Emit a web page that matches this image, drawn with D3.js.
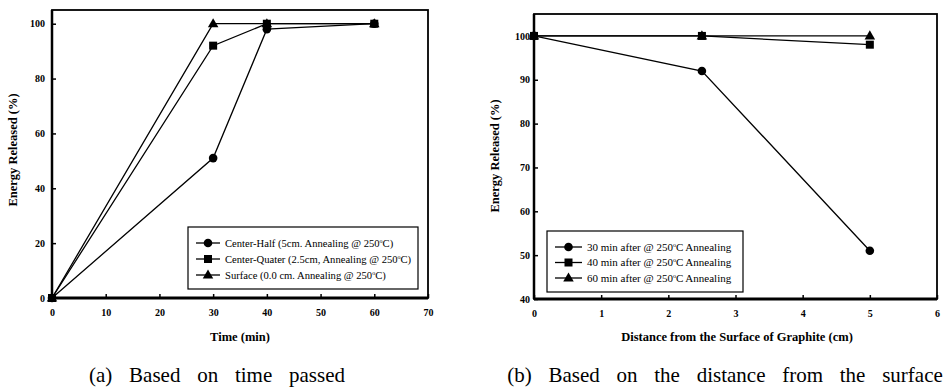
<!DOCTYPE html>
<html>
<head>
<meta charset="utf-8">
<script src="https://cdn.jsdelivr.net/npm/d3@7"></script>
<style>
  body { margin: 0; background: #fff; }
  svg { display: block; }
  svg text { font-family: "Liberation Serif", "Times New Roman", serif; fill: #000; }
</style>
</head>
<body>
<div id="graphContainer"></div>
<script>
"use strict";
// ---- data ----
const timeMin = [0, 30, 40, 60]
const centerHalf = [0, 51, 98, 100]
const centerQuater = [0, 92, 100, 100]
const surface = [0, 100, 100, 100]
const timeLabels = ["Center-Half (5cm. Annealing @ 250", "Center-Quater (2.5cm, Annealing @ 250", "Surface (0.0 cm. Annealing @ 250"]
const timeTicksX = [0, 10, 20, 30, 40, 50, 60, 70]
const timeTicksY = [0, 20, 40, 60, 80, 100]

const distCm = [0, 2.5, 5]
const after30 = [100, 92, 51]
const after40 = [100, 100, 98]
const after60 = [100, 100, 100]
const distLabels = ["30 min after @ 250", "40 min after @ 250", "60 min after @ 250"]
const distTicksX = [0, 1, 2, 3, 4, 5, 6]
const distTicksY = [40, 50, 60, 70, 80, 90, 100]

const markers = ["circle", "square", "triangle"]

const svgContainer = d3.select("#graphContainer").append("svg")
    .attr("width", 947)
    .attr("height", 387)

function drawMarker(g, kind, x, y) {
    if (kind === "circle") {
        g.append("circle").attr("cx", x).attr("cy", y).attr("r", 4.3).attr("fill", "#000")
    } else if (kind === "square") {
        g.append("rect").attr("x", x - 4).attr("y", y - 4).attr("width", 8).attr("height", 8).attr("fill", "#000")
    } else {
        g.append("path").attr("d", d3.symbol(d3.symbolTriangle, 48)()).attr("transform", `translate(${x},${y + 0.5})`).attr("fill", "#000")
    }
}

function makePanel(opt) {
    const g = svgContainer.append("g")
    const x = d3.scaleLinear().domain(opt.xDomain).range([opt.left, opt.right])
    const y = d3.scaleLinear().domain(opt.yDomain).range([opt.bottom, opt.top])

    // frame: thin top/right, heavier left/bottom
    g.append("rect")
        .attr("x", opt.left).attr("y", opt.top)
        .attr("width", opt.right - opt.left).attr("height", opt.bottom - opt.top)
        .attr("fill", "none").attr("stroke", "#000").attr("stroke-width", 1.8)
    g.append("line")
        .attr("x1", opt.left).attr("x2", opt.right)
        .attr("y1", opt.bottom).attr("y2", opt.bottom)
        .attr("stroke", "#000").attr("stroke-width", 3)
    g.append("line")
        .attr("x1", opt.left).attr("x2", opt.left)
        .attr("y1", opt.top).attr("y2", opt.bottom)
        .attr("stroke", "#000").attr("stroke-width", 2.5)

    // axes with inward ticks
    const xAxis = g.append("g").attr("transform", `translate(0,${opt.bottom})`)
        .call(d3.axisBottom(x).tickValues(opt.xTicks).tickSize(-4).tickPadding(11).tickFormat(d3.format("d")))
    const yAxis = g.append("g").attr("transform", `translate(${opt.left},0)`)
        .call(d3.axisLeft(y).tickValues(opt.yTicks).tickSize(-4).tickPadding(opt.yPad).tickFormat(d3.format("d")))
    ;[xAxis, yAxis].forEach(a => {
        a.attr("font-family", null)
        a.select(".domain").remove()
        a.selectAll("line").attr("stroke", "#000").attr("stroke-width", 1.5)
        a.selectAll("text")
            .attr("fill", "#000")
            .style("font-weight", "bold")
            .style("font-size", "10px")
    })

    // series, drawn last-first so the first series sits on top
    for (let i = opt.series.length - 1; i >= 0; i--) {
        const vals = opt.series[i]
        const pts = opt.xs.map((v, j) => [x(v), y(vals[j])])
        g.append("path")
            .attr("d", d3.line()(pts))
            .attr("fill", "none").attr("stroke", "#000").attr("stroke-width", 1.3)
        pts.forEach(p => drawMarker(g, markers[i], p[0], p[1]))
    }

    // axis titles
    g.append("text")
        .attr("transform", `translate(${opt.yTitleX},${opt.yTitleY}) rotate(-90)`)
        .attr("text-anchor", "middle").attr("dominant-baseline", "middle")
        .style("font-weight", "bold").style("font-size", "12.5px")
        .text("Energy Released (%)")
    g.append("text")
        .attr("x", opt.xTitleX).attr("y", 341)
        .attr("text-anchor", "middle")
        .style("font-weight", "bold").style("font-size", "12.5px")
        .text(opt.xTitle)

    // legend
    const lg = g.append("g")
    lg.append("rect")
        .attr("x", opt.legend.x).attr("y", opt.legend.y)
        .attr("width", opt.legend.w).attr("height", opt.legend.h)
        .attr("fill", "#fff").attr("stroke", "#000").attr("stroke-width", 1.2)
    opt.labels.forEach((lab, i) => {
        const ly = opt.legend.y + opt.legend.row0 + i * opt.legend.step
        lg.append("line")
            .attr("x1", opt.legend.x + 8).attr("x2", opt.legend.x + 8 + opt.legend.lineW)
            .attr("y1", ly).attr("y2", ly)
            .attr("stroke", "#000").attr("stroke-width", 1.3)
        drawMarker(lg, markers[i], opt.legend.x + 8 + opt.legend.lineW / 2, ly)
        const t = lg.append("text")
            .attr("x", opt.legend.x + 8 + opt.legend.lineW + 5).attr("y", ly + 3.5)
            .style("font-size", opt.legend.fs)
            .text(lab)
        t.append("tspan").attr("dy", -4).style("font-size", "6px").text("o")
        t.append("tspan").attr("dy", 4).text(opt.labelTail)
    })

    // caption
    g.append("text")
        .attr("x", opt.capX).attr("y", 382)
        .attr("text-anchor", "middle")
        .style("font-size", "21px")
        .style("word-spacing", "11.5px")
        .text(opt.caption)
}

makePanel({
    left: 52, right: 428, top: 10, bottom: 298,
    xDomain: [0, 70], yDomain: [0, 105],
    xTicks: timeTicksX, yTicks: timeTicksY, yPad: 7,
    xs: timeMin, series: [centerHalf, centerQuater, surface],
    labels: timeLabels, labelTail: "C)",
    legend: { x: 188, y: 227, w: 230, h: 62, row0: 16, step: 16, lineW: 24, fs: "10.6px" },
    yTitleX: 14, yTitleY: 150, xTitleX: 240, xTitle: "Time (min)",
    capX: 217, caption: "(a) Based on time passed"
})

makePanel({
    left: 534, right: 937, top: 14, bottom: 299,
    xDomain: [0, 6], yDomain: [40, 105],
    xTicks: distTicksX, yTicks: distTicksY, yPad: 4,
    xs: distCm, series: [after30, after40, after60],
    labels: distLabels, labelTail: "C Annealing",
    legend: { x: 547, y: 231, w: 196, h: 61, row0: 16, step: 15.5, lineW: 27, fs: "11px" },
    yTitleX: 496, yTitleY: 156, xTitleX: 737, xTitle: "Distance from the Surface of Graphite (cm)",
    capX: 725, caption: "(b) Based on the distance from the surface"
})
</script>
</body>
</html>
